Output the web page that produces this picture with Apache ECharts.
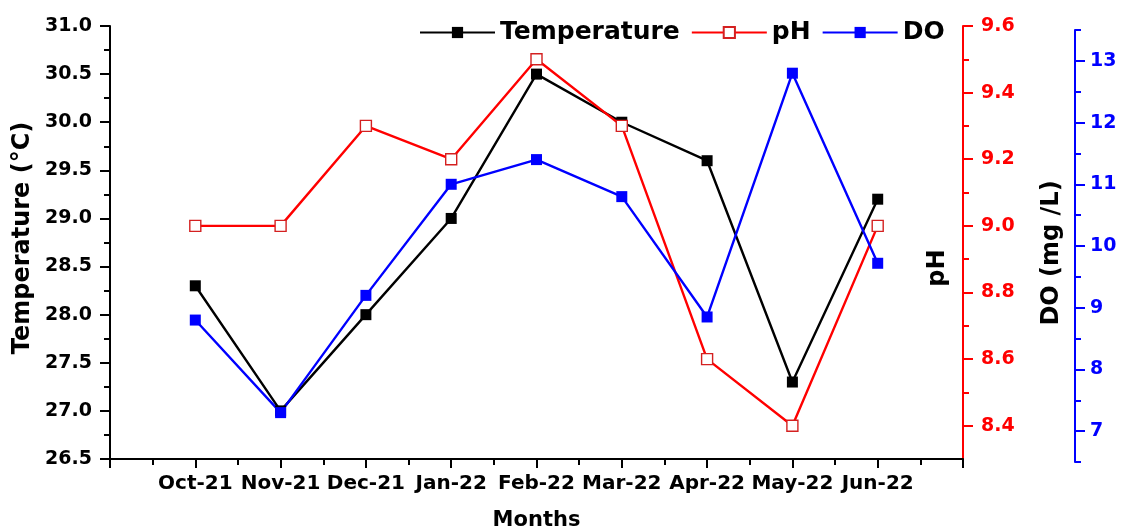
<!DOCTYPE html>
<html>
<head>
<meta charset="utf-8">
<script src="https://cdn.jsdelivr.net/npm/echarts@6/dist/echarts.min.js"></script>
<style>
html,body{margin:0;padding:0;background:#fff;}
#chart{width:1123px;height:530px;}
</style>
</head>
<body>
<div id="chart"></div>
<script>
const categories = ['Oct-21','Nov-21','Dec-21','Jan-22','Feb-22','Mar-22','Apr-22','May-22','Jun-22'];
const temperature = [28.3, 27.0, 28.0, 29.0, 30.5, 30.0, 29.6, 27.3, 29.2];
const pH = [9.0, 9.0, 9.3, 9.2, 9.5, 9.3, 8.6, 8.4, 9.0];
const DO = [8.8, 7.3, 9.2, 11.0, 11.4, 10.8, 8.85, 12.8, 9.72];
const tempTicks = [26.5, 27.0, 27.5, 28.0, 28.5, 29.0, 29.5, 30.0, 30.5, 31.0];
const pHMajor = [8.4, 8.6, 8.8, 9.0, 9.2, 9.4, 9.6];
const pHMinor = [8.5, 8.7, 8.9, 9.1, 9.3, 9.5];
const DOMajor = [7, 8, 9, 10, 11, 12, 13];
const DOMinor = [6.5, 7.5, 8.5, 9.5, 10.5, 11.5, 12.5, 13.5];

const FONT = 'DejaVu Sans';
const toPairs = arr => arr.map((v, i) => [i + 1, v]);

const mainGrid = {left: 110, right: 160, top: 26, bottom: 71, outerBoundsMode: 'none', containLabel: false};
const doGrid = {left: 110, right: 160, top: 30, bottom: 68, outerBoundsMode: 'none', containLabel: false};
const hiddenX = idx => ({type: 'value', gridIndex: idx, min: 0, max: 10, show: false});
const tickOnlyY = (idx, min, max, values, color, offset) => ({
  type: 'value', gridIndex: idx, position: 'right', offset: offset, min: min, max: max,
  axisLine: {show: false, onZero: false},
  axisTick: {show: true, length: 6, customValues: values, lineStyle: {color: color, width: 2}},
  splitLine: {show: false},
  axisLabel: {show: false}
});

const chart = echarts.init(document.getElementById('chart'));
chart.setOption({
  animation: false,
  backgroundColor: '#fff',
  grid: [mainGrid, doGrid, Object.assign({}, mainGrid), Object.assign({}, doGrid)],
  legend: {
    left: 414, top: 15,
    itemWidth: 75, itemHeight: 14, itemGap: 11,
    textStyle: {fontFamily: FONT, fontWeight: 'bold', fontSize: 25, color: '#000'},
    data: ['Temperature', 'pH', 'DO']
  },
  xAxis: [
    {
      type: 'value', gridIndex: 0, min: 0, max: 10, interval: 1,
      name: 'Months', nameLocation: 'middle', nameGap: 51,
      nameTextStyle: {fontFamily: FONT, fontWeight: 'bold', fontSize: 21, color: '#000'},
      axisLine: {show: true, onZero: false, lineStyle: {color: '#000', width: 2}},
      axisTick: {show: true, length: 9, lineStyle: {color: '#000', width: 2}},
      minorTick: {show: true, splitNumber: 2, length: 6, lineStyle: {color: '#000', width: 2}},
      splitLine: {show: false},
      axisLabel: {
        margin: 15, fontFamily: FONT, fontWeight: 'bold', fontSize: 20, color: '#000',
        formatter: v => (v >= 1 && v <= categories.length) ? categories[v - 1] : ''
      }
    },
    hiddenX(1), hiddenX(2), hiddenX(3)
  ],
  yAxis: [
    {
      type: 'value', gridIndex: 0, position: 'left', min: 26.5, max: 31, interval: 0.5,
      axisLine: {show: true, onZero: false, lineStyle: {color: '#000', width: 2}},
      axisTick: {show: true, length: 10, lineStyle: {color: '#000', width: 2}},
      minorTick: {show: true, splitNumber: 2, length: 6, lineStyle: {color: '#000', width: 2}},
      splitLine: {show: false},
      axisLabel: {margin: 18, fontFamily: FONT, fontWeight: 'bold', fontSize: 19, color: '#000',
        customValues: tempTicks, formatter: v => v.toFixed(1)}
    },
    {
      type: 'value', gridIndex: 0, position: 'right', min: 8.3, max: 9.6,
      axisLine: {show: true, onZero: false, lineStyle: {color: '#ff0000', width: 2}},
      axisTick: {show: true, length: 10, customValues: pHMajor, lineStyle: {color: '#ff0000', width: 2}},
      splitLine: {show: false},
      axisLabel: {margin: 18, fontFamily: FONT, fontWeight: 'bold', fontSize: 19, color: '#ff0000',
        customValues: pHMajor, formatter: v => v.toFixed(1)}
    },
    {
      type: 'value', gridIndex: 1, position: 'right', offset: 112, min: 6.5, max: 13.5,
      axisLine: {show: true, onZero: false, lineStyle: {color: '#0000ff', width: 2}},
      axisTick: {show: true, length: 10, customValues: DOMajor, lineStyle: {color: '#0000ff', width: 2}},
      splitLine: {show: false},
      axisLabel: {margin: 15, fontFamily: FONT, fontWeight: 'bold', fontSize: 19, color: '#0000ff',
        customValues: DOMajor, formatter: v => String(v)}
    },
    tickOnlyY(2, 8.3, 9.6, pHMinor, '#ff0000', 0),
    tickOnlyY(3, 6.5, 13.5, DOMinor, '#0000ff', 112)
  ],
  graphic: [
    {type: 'text', x: 23, y: 238, rotation: Math.PI / 2,
      style: {text: 'Temperature (°C)', font: 'bold 24px "DejaVu Sans"', fill: '#000',
        textAlign: 'center', textVerticalAlign: 'middle', align: 'center', verticalAlign: 'middle'}},
    {type: 'text', x: 938, y: 268, rotation: Math.PI / 2,
      style: {text: 'pH', font: 'bold 24px "DejaVu Sans"', fill: '#000',
        textAlign: 'center', textVerticalAlign: 'middle', align: 'center', verticalAlign: 'middle'}},
    {type: 'text', x: 1052, y: 253, rotation: Math.PI / 2,
      style: {text: 'DO (mg /L)', font: 'bold 24px "DejaVu Sans"', fill: '#000',
        textAlign: 'center', textVerticalAlign: 'middle', align: 'center', verticalAlign: 'middle'}}
  ],
  series: [
    {
      name: 'Temperature', type: 'line', xAxisIndex: 0, yAxisIndex: 0,
      data: toPairs(temperature),
      symbol: 'rect', symbolSize: 11,
      lineStyle: {color: '#000', width: 2.4},
      itemStyle: {color: '#000'}
    },
    {
      name: 'pH', type: 'line', xAxisIndex: 0, yAxisIndex: 1,
      data: toPairs(pH),
      symbol: 'rect', symbolSize: 11,
      lineStyle: {color: '#ff0000', width: 2.4},
      itemStyle: {color: '#fff', borderColor: '#d42020', borderWidth: 1.4}
    },
    {
      name: 'DO', type: 'line', xAxisIndex: 1, yAxisIndex: 2,
      data: toPairs(DO),
      symbol: 'rect', symbolSize: 11,
      lineStyle: {color: '#0000ff', width: 2.4},
      itemStyle: {color: '#0000ff'}
    }
  ]
});
</script>
</body>
</html>
